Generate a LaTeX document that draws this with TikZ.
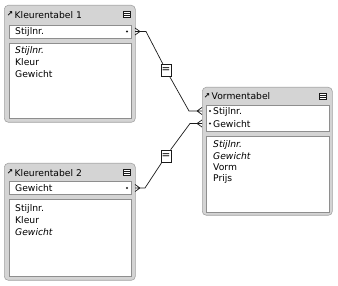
\documentclass[tikz,border=0pt]{standalone}
\usepackage{fontspec}
\setmainfont{DejaVu Sans}
\usepackage{tikz}
\usetikzlibrary{arrows.meta,positioning}
\definecolor{ink}{HTML}{1A1A1A}
\definecolor{framegray}{HTML}{D4D4D4}
\definecolor{framerim}{HTML}{A3A3A3}
\definecolor{boxrim}{HTML}{8E8E8E}
\tikzset{
  tableframe/.style={draw=framerim,fill=framegray,rounded corners=4pt,line width=0.6pt,
    inner sep=0pt,anchor=north west},
  whitebox/.style={draw=boxrim,fill=white,line width=0.6pt,inner sep=0pt,anchor=north west},
  tabletitle/.style={anchor=west,inner sep=0pt},
  fieldname/.style={anchor=west,inner sep=0pt},
  keyfield/.style={fieldname,font=\fontsize{9.2}{11}\itshape},
  keydot/.style={circle,fill=ink,inner sep=0pt,minimum size=2.2pt},
  linkicon/.style={inner sep=0pt,font=\fontsize{7.5}{7.5}\bfseries},
  menuicon/.style={draw=ink,fill=white,line width=0.8pt,minimum width=7pt,minimum height=6pt,
    inner sep=0pt,path picture={\draw[ink,line width=0.6pt]
      ([yshift=-1pt]path picture bounding box.west) -- ([yshift=-1pt]path picture bounding box.east)
      ([yshift=1pt]path picture bounding box.west) -- ([yshift=1pt]path picture bounding box.east);}},
  matchbox/.style={draw=ink,fill=white,line width=0.6pt,minimum width=10pt,minimum height=12pt,
    inner sep=0pt,font=\fontsize{10.5}{10.5}\selectfont},
  relline/.style={draw=ink,line width=0.7pt}
}

\begin{document}
\begin{tikzpicture}[x=1pt,y=-1pt,font=\fontsize{9.2}{11}\selectfont]
\useasboundingbox (0,0) rectangle (338,286);

% Kleurentabel 1
\node[tableframe,minimum width=131pt,minimum height=117pt] (k1frame) at (4,5) {};
\node[linkicon] (k1link) at (10,14.5) {↗};
\node[tabletitle] (k1title) at (14.5,15) {Kleurentabel 1};
\node[menuicon] (k1menu) at (127,14.5) {};
\node[whitebox,minimum width=122pt,minimum height=13pt] (k1key) at (9,25) {};
\node[fieldname] (k1keyname) at (15,31.5) {Stijlnr.};
\node[keydot] (k1dot) at (127,31.5) {};
\node[whitebox,minimum width=122pt,minimum height=75pt] (k1fields) at (9,43) {};
\node[keyfield] (k1f1) at (15,51) {Stijlnr.};
\node[fieldname] (k1f2) at (15,62.5) {Kleur};
\node[fieldname] (k1f3) at (15,74) {Gewicht};

% Kleurentabel 2
\node[tableframe,minimum width=131pt,minimum height=117pt] (k2frame) at (4,163) {};
\node[linkicon] (k2link) at (10,172.5) {↗};
\node[tabletitle] (k2title) at (14.5,173) {Kleurentabel 2};
\node[menuicon] (k2menu) at (127,172.5) {};
\node[whitebox,minimum width=122pt,minimum height=13pt] (k2key) at (9,181.5) {};
\node[fieldname] (k2keyname) at (15,188) {Gewicht};
\node[keydot] (k2dot) at (127,188) {};
\node[whitebox,minimum width=122pt,minimum height=77pt] (k2fields) at (9,199.5) {};
\node[fieldname] (k2f1) at (15,209) {Stijlnr.};
\node[fieldname] (k2f2) at (15,220.5) {Kleur};
\node[keyfield] (k2f3) at (15,232) {Gewicht};

% Vormentabel
\node[tableframe,minimum width=130pt,minimum height=128pt] (vframe) at (202,87) {};
\node[linkicon] (vlink) at (207,96) {↗};
\node[tabletitle] (vtitle) at (211.5,96.5) {Vormentabel};
\node[menuicon] (vmenu) at (323,96) {};
\node[whitebox,minimum width=123pt,minimum height=26pt] (vkey) at (206,105) {};
\node[keydot] (vdot1) at (210,111) {};
\node[fieldname] (vkey1) at (213,111.5) {Stijlnr.};
\node[keydot] (vdot2) at (210,123.5) {};
\node[fieldname] (vkey2) at (213,124) {Gewicht};
\node[whitebox,minimum width=123pt,minimum height=76pt] (vfields) at (206,136) {};
\node[keyfield] (vf1) at (213,144.5) {Stijlnr.};
\node[keyfield] (vf2) at (213,156) {Gewicht};
\node[fieldname] (vf3) at (213,167.5) {Vorm};
\node[fieldname] (vf4) at (213,179) {Prijs};

% relaties
\coordinate (k1tip) at (140,31.5);
\coordinate (k2tip) at (140,188);
\coordinate (v1tip) at (197,111);
\coordinate (v2tip) at (197,123.5);
\node[matchbox] (eq1) at (166,70) {=};
\node[matchbox] (eq2) at (166,156) {=};
\draw[relline] (k1tip) -- ++(6,0) -- (eq1) -- (189,111) -- (v1tip);
\draw[relline] (k2tip) -- ++(5,0) -- (eq2) -- (190,123.5) -- (v2tip);
\draw[relline] (k1tip) -- ++(-5,-3.5) (k1tip) -- ++(-5,0) (k1tip) -- ++(-5,3.5);
\draw[relline] (k2tip) -- ++(-5,-3.5) (k2tip) -- ++(-5,0) (k2tip) -- ++(-5,3.5);
\draw[relline] (v1tip) -- ++(5,-3.5) (v1tip) -- ++(5,0) (v1tip) -- ++(5,3.5);
\draw[relline] (v2tip) -- ++(5,-3.5) (v2tip) -- ++(5,0) (v2tip) -- ++(5,3.5);
\end{tikzpicture}
\end{document}
